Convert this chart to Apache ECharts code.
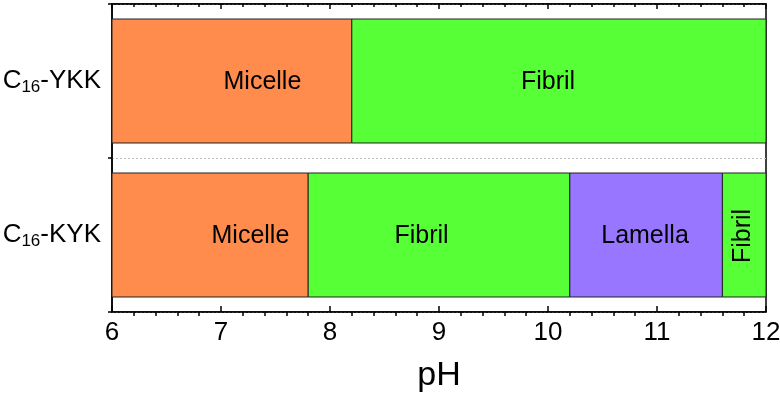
<!DOCTYPE html>
<html>
<head>
<meta charset="utf-8">
<script src="https://cdn.jsdelivr.net/npm/echarts@6/dist/echarts.min.js"></script>
<style>
  html, body { margin: 0; padding: 0; background: #fff; }
  #chart { width: 780px; height: 401px; }
</style>
</head>
<body>
<div id="chart"></div>
<script>
// samples, top to bottom
const samples = ['C16-YKK', 'C16-KYK'];
// phase boundaries (pH) for each sample
const ykkBounds = [6, 8.2, 12];
const kykBounds = [6, 7.8, 10.2, 11.6, 12];
const ykkPhases = ['Micelle', 'Fibril'];
const kykPhases = ['Micelle', 'Fibril', 'Lamella', 'Fibril'];
// where the phase name sits (pH)
const ykkLabelAt = [7.38, 10.0];
const kykLabelAt = [7.27, 8.84, 10.89, 11.79];
const xTicks = [6, 7, 8, 9, 10, 11, 12];

const phaseColor = { Micelle: '#FF8C4C', Fibril: '#56FF36', Lamella: '#9876FF' };
const FONT = '"Liberation Sans", Arial, Helvetica, sans-serif';

// build [cat, start, end, labelAt, phase]
const segs = [];
function addSegs(cat, bounds, phases, labelAt) {
  for (let i = 0; i < phases.length; i++) {
    segs.push([cat, bounds[i], bounds[i + 1], labelAt[i], phases[i]]);
  }
}
addSegs(0, ykkBounds, ykkPhases, ykkLabelAt);
addSegs(1, kykBounds, kykPhases, kykLabelAt);

const chart = echarts.init(document.getElementById('chart'));

function renderItem(params, api) {
  const cat = api.value(0);
  const p0 = api.coord([api.value(1), cat]);
  const p1 = api.coord([api.value(2), cat]);
  const h = api.size([0, 1])[1] * 0.805;
  const lp = api.coord([api.value(3), cat]);
  const phase = segs[params.dataIndex][4];
  const narrow = (p1[0] - p0[0]) < 60;
  return {
    type: 'group',
    children: [
      {
        type: 'rect',
        shape: { x: p0[0], y: p0[1] - h / 2, width: p1[0] - p0[0], height: h },
        style: { fill: phaseColor[phase], stroke: '#222', lineWidth: 1 }
      },
      {
        type: 'text',
        x: lp[0],
        y: lp[1] + 1,
        rotation: narrow ? Math.PI / 2 : 0,
        style: {
          text: phase,
          fill: '#000',
          fontSize: 25,
          fontFamily: FONT,
          align: 'center',
          verticalAlign: 'middle'
        }
      }
    ]
  };
}

const option = {
  animation: false,
  grid: {
    left: 112, right: 14, top: 4, bottom: 89,
    outerBoundsMode: 'none',
    show: true, borderColor: '#000', borderWidth: 1.5
  },
  xAxis: [
    {
      type: 'value',
      min: 6, max: 12, interval: 1,
      name: 'pH',
      nameLocation: 'middle',
      nameGap: 47,
      nameTextStyle: { fontSize: 34, fontFamily: FONT, color: '#000' },
      axisLine: { show: true, lineStyle: { color: '#000', width: 1.5 } },
      axisTick: { show: true, inside: true, length: 6, lineStyle: { color: '#000', width: 1.5 } },
      minorTick: { show: true, splitNumber: 5, length: -4, lineStyle: { color: '#000', width: 1.5 } },
      axisLabel: {
        fontSize: 26, fontFamily: FONT, color: '#000', margin: 8,
        formatter: v => (xTicks.indexOf(v) >= 0 ? String(v) : '')
      },
      splitLine: { show: false }
    },
    {
      type: 'value',
      position: 'top',
      min: 6, max: 12, interval: 1,
      axisLine: { show: true, lineStyle: { color: '#000', width: 1.5 } },
      axisTick: { show: true, inside: true, length: 5, lineStyle: { color: '#000', width: 1.5 } },
      minorTick: { show: true, splitNumber: 5, length: 3, lineStyle: { color: '#000', width: 1.5 } },
      axisLabel: { show: false },
      splitLine: { show: false }
    }
  ],
  yAxis: {
    type: 'category',
    inverse: true,
    data: samples,
    axisLine: { show: true, lineStyle: { color: '#000', width: 1.5 } },
    axisTick: { show: true, length: 4, lineStyle: { color: '#000', width: 1.5 } },
    splitLine: { show: true, lineStyle: { color: '#bbb', type: [2, 2], width: 1 } },
    axisLabel: {
      margin: 11,
      formatter: v => '{c|C}{s|16}{c|' + v.slice(3) + '}',
      rich: {
        c: { fontSize: 26, fontFamily: FONT, color: '#000' },
        s: { fontSize: 17, fontFamily: FONT, color: '#000', padding: [12, 0, 0, 0] }
      }
    }
  },
  series: [{
    type: 'custom',
    renderItem: renderItem,
    encode: { x: [1, 2], y: 0 },
    data: segs.map(s => [s[0], s[1], s[2], s[3]])
  }]
};

chart.setOption(option);
</script>
</body>
</html>
